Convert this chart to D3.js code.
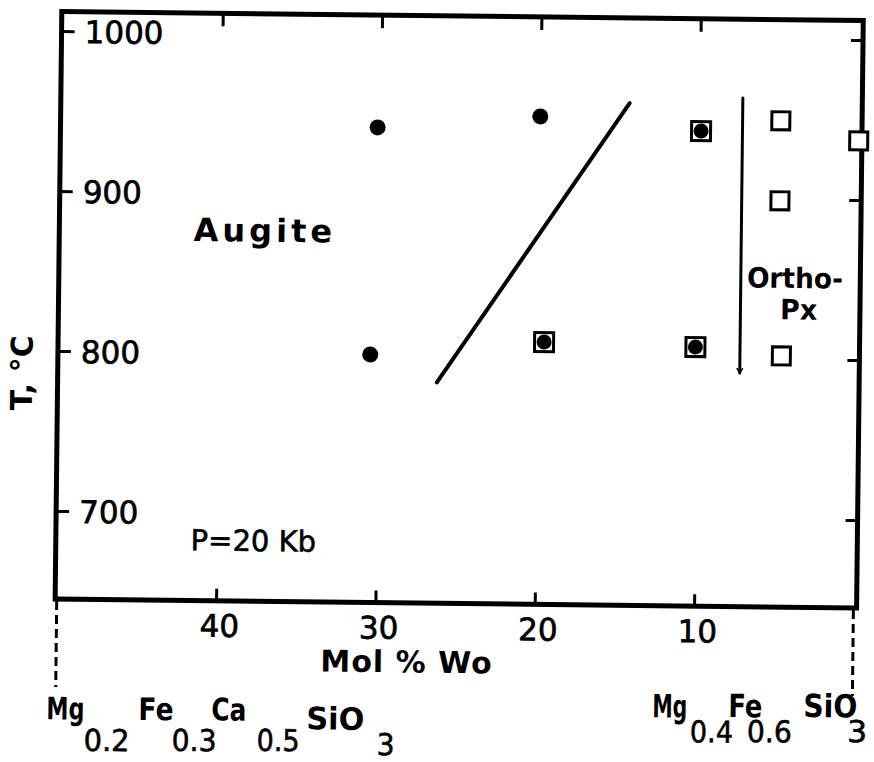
<!DOCTYPE html>
<html>
<head>
<meta charset="utf-8">
<script src="https://cdn.jsdelivr.net/npm/d3@7"></script>
<style>
  body { margin: 0; background: #fff; }
  text { font-family: "DejaVu Sans", sans-serif; fill: #000; }
</style>
</head>
<body>
<svg id="chart" width="874" height="762"></svg>
<script>
// tick values
const woTicks = [40, 30, 20, 10];
const tTicks = [700, 800, 900, 1000];

// run products (mol % Wo, T in C)
const augite = [{ wo: 30.2, t: 942 }, { wo: 20.0, t: 950 }, { wo: 30.5, t: 800 }];
const augOpx = [{ wo: 19.6, t: 809 }, { wo: 10.1, t: 807 }, { wo: 9.9, t: 942 }];
const orthoPx = [{ wo: 4.9, t: 949 }, { wo: 4.9, t: 899 }, { wo: 4.7, t: 802 }, { wo: 0, t: 937 }];

// phase boundaries
const augiteLimit = [{ wo: 26.3, t: 783 }, { wo: 14.4, t: 959 }];
const opxLimit = [{ wo: 7.3, t: 963 }, { wo: 7.3, t: 791 }];

const svg = d3.select("#chart");
// the scanned figure is tilted a little clockwise
const g = svg.append("g").attr("transform", "rotate(0.65 458 305)");

const x = d3.scaleLinear().domain([50.1, -0.2]).range([58.5, 860]);
const y = d3.scaleLinear().domain([645, 1012.2]).range([603.5, 16]);
const [x0, x1] = x.range();
const [y0, y1] = y.range();

// frame
g.append("rect")
  .attr("x", x0).attr("y", y1)
  .attr("width", x1 - x0).attr("height", y0 - y1)
  .attr("fill", "none").attr("stroke", "#000").attr("stroke-width", 5);

function styleAxis(sel) {
  sel.select(".domain").remove();
  sel.selectAll(".tick line").attr("stroke", "#000").attr("stroke-width", 3);
}

// left axis, labels inside the frame
const axLeft = g.append("g").attr("transform", `translate(${x0},0)`)
  .call(d3.axisLeft(y).tickValues(tTicks).tickSize(-13).tickFormat(d3.format("d")));
styleAxis(axLeft);
axLeft.selectAll(".tick text")
  .attr("x", 23).attr("text-anchor", "start").attr("dy", "0.36em")
  .attr("font-size", 31).attr("font-family", "DejaVu Sans")
  .attr("fill", "#000").attr("stroke", "#000").attr("stroke-width", 0.7);

const axRight = g.append("g").attr("transform", `translate(${x1},0)`)
  .call(d3.axisRight(y).tickValues(tTicks).tickSize(-12).tickFormat(""));
styleAxis(axRight);

const axBottom = g.append("g").attr("transform", `translate(0,${y0})`)
  .call(d3.axisBottom(x).tickValues(woTicks).tickSize(-12).tickFormat(d3.format("d")));
styleAxis(axBottom);
axBottom.selectAll(".tick text")
  .attr("y", 36).attr("dy", 0).attr("dx", 3)
  .attr("font-size", 31).attr("font-family", "DejaVu Sans")
  .attr("fill", "#000").attr("stroke", "#000").attr("stroke-width", 0.7);

const axTop = g.append("g").attr("transform", `translate(0,${y1})`)
  .call(d3.axisTop(x).tickValues(woTicks).tickSize(-13).tickFormat(""));
styleAxis(axTop);

// dashed drop lines to the end-member formulas
g.selectAll(".drop").data([50, 0]).join("line")
  .attr("x1", d => x(d)).attr("x2", d => x(d))
  .attr("y1", y0 + 2).attr("y2", y0 + 88)
  .attr("stroke", "#000").attr("stroke-width", 3)
  .attr("stroke-dasharray", "9,5");

// axis titles
g.append("text")
  .attr("x", x(28)).attr("y", 673)
  .attr("text-anchor", "middle").attr("font-size", 30).attr("font-weight", "bold")
  .attr("letter-spacing", 1)
  .text("Mol % Wo");

g.append("text")
  .attr("transform", `translate(33,${y(786)}) rotate(-90)`)
  .attr("text-anchor", "middle").attr("font-size", 30).attr("font-weight", "bold")
  .text("T, °C");

// phase boundaries
const line = d3.line().x(d => x(d.wo)).y(d => y(d.t));
g.append("path").datum(augiteLimit)
  .attr("d", line).attr("fill", "none")
  .attr("stroke", "#000").attr("stroke-width", 4).attr("stroke-linecap", "round");

g.append("path").datum(opxLimit)
  .attr("d", line).attr("fill", "none")
  .attr("stroke", "#000").attr("stroke-width", 3).attr("stroke-linecap", "round");
// small barb at the lower end of the orthopyroxene limit
const tipX = x(opxLimit[1].wo), tipY = y(opxLimit[1].t);
g.append("path")
  .attr("d", `M${tipX - 3},${tipY - 5}L${tipX},${tipY}L${tipX + 3},${tipY - 5}`)
  .attr("fill", "none").attr("stroke", "#000").attr("stroke-width", 1.5);

// points
g.selectAll(".aug").data(augite).join("circle")
  .attr("cx", d => x(d.wo)).attr("cy", d => y(d.t)).attr("r", 8).attr("fill", "#000");

const mixed = g.selectAll(".mix").data(augOpx).join("g")
  .attr("transform", d => `translate(${x(d.wo)},${y(d.t)})`);
mixed.append("rect").attr("x", -9.5).attr("y", -9.5).attr("width", 19).attr("height", 19)
  .attr("fill", "#fff").attr("stroke", "#000").attr("stroke-width", 3);
mixed.append("circle").attr("r", 7.5).attr("fill", "#000");

g.selectAll(".opx").data(orthoPx).join("rect")
  .attr("x", d => x(d.wo) - 9).attr("y", d => y(d.t) - 9)
  .attr("width", 18).attr("height", 18)
  .attr("fill", "#fff").attr("stroke", "#000").attr("stroke-width", 3);

// field labels
g.append("text")
  .attr("x", x(37.2)).attr("y", y(869.7))
  .attr("text-anchor", "middle").attr("font-size", 32).attr("font-weight", "bold")
  .attr("letter-spacing", 4)
  .text("Augite");

g.append("text")
  .attr("x", x(37.7)).attr("y", y(676.4))
  .attr("text-anchor", "middle").attr("font-size", 29)
  .attr("stroke", "#000").attr("stroke-width", 0.6)
  .text("P=20 Kb");

g.append("text")
  .attr("x", x(3.9)).attr("y", y(844.6))
  .attr("text-anchor", "middle").attr("font-size", 28).attr("font-weight", "bold")
  .attr("textLength", 96).attr("lengthAdjust", "spacingAndGlyphs")
  .text("Ortho-");
g.append("text")
  .attr("x", x(3.65)).attr("y", y(825))
  .attr("text-anchor", "middle").attr("font-size", 28).attr("font-weight", "bold")
  .attr("textLength", 37).attr("lengthAdjust", "spacingAndGlyphs")
  .text("Px");

// end-member formulas under the dashed lines (offsets and widths in px)
const leftFormula = [
  { s: "Mg", dx: -9, w: 38, y: 724, sub: false },
  { s: "0.2", dx: 28.5, w: 46, y: 755, sub: true },
  { s: "Fe", dx: 83, w: 35, y: 723.5, sub: false },
  { s: "0.3", dx: 116.5, w: 45, y: 754, sub: true },
  { s: "Ca", dx: 156, w: 35, y: 723, sub: false },
  { s: "0.5", dx: 201.5, w: 43, y: 753, sub: true },
  { s: "SiO", dx: 251, w: 58, y: 731, sub: false },
  { s: "3", dx: 321.5, w: 18, y: 756, sub: true }
];
const rightFormula = [
  { s: "Mg", dx: -200, w: 35, y: 715, sub: false },
  { s: "0.4", dx: -162, w: 43, y: 739.5, sub: true },
  { s: "Fe", dx: -124, w: 34, y: 714, sub: false },
  { s: "0.6", dx: -105, w: 45, y: 738.7, sub: true },
  { s: "SiO", dx: -49, w: 54, y: 713, sub: false },
  { s: "3", dx: -5, w: 20, y: 737.6, sub: true }
];

function formula(parts, anchorX, letterSize) {
  g.append("g").selectAll("text").data(parts).join("text")
    .attr("x", d => anchorX + d.dx).attr("y", d => d.y)
    .attr("font-size", d => d.sub ? 30 : letterSize)
    .attr("font-weight", d => d.sub ? "normal" : "bold")
    .attr("stroke", d => d.sub ? "#000" : "none").attr("stroke-width", 0.6)
    .attr("textLength", d => d.w).attr("lengthAdjust", "spacingAndGlyphs")
    .text(d => d.s);
}
formula(leftFormula, x(50), 31);
formula(rightFormula, x(0), 32);
</script>
</body>
</html>
